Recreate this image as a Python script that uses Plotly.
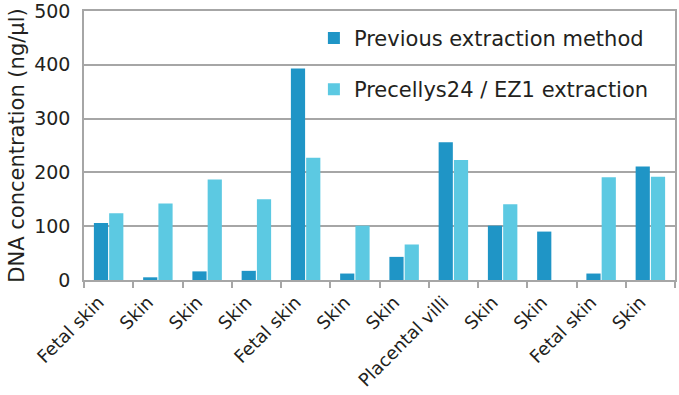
import plotly.graph_objects as go

categories = ["Fetal skin", "Skin", "Skin", "Skin", "Fetal skin", "Skin", "Skin",
              "Placental villi", "Skin", "Skin", "Fetal skin", "Skin"]
previous = [106, 5, 16, 17, 393, 12, 43, 256, 101, 90, 12, 211]
precellys = [124, 142, 187, 150, 227, 101, 66, 223, 141, 0, 191, 192]
series_names = ["Previous extraction method", "Precellys24 / EZ1 extraction"]
y_ticks = [0, 100, 200, 300, 400, 500]

x = list(range(len(categories)))
label_pos = [i - 0.2 for i in x]  # rotated labels sit slightly left of the group centre
boundaries = [i - 0.5 for i in range(len(categories) + 1)]
FONT = "DejaVu Sans"
TXT = "#231f20"
GRID = "#a6a6a6"

fig = go.Figure()
fig.add_trace(go.Bar(x=x, y=previous, name=series_names[0], marker_color="#1f95c6",
                     marker_line_width=0, legendgroup="a"))
fig.add_trace(go.Bar(x=x, y=precellys, name=series_names[1], marker_color="#5cc9e2",
                     marker_line_width=0, legendgroup="b"))

fig.update_layout(
    width=679, height=395,
    margin=dict(l=84, r=4, t=11, b=115),
    paper_bgcolor="white", plot_bgcolor="white",
    barmode="group", bargap=0.38, bargroupgap=0.07,
    font=dict(family=FONT, color=TXT),
    legend=dict(x=0.389, y=0.975, xanchor="left", yanchor="top",
                bgcolor="rgba(0,0,0,0)", font=dict(size=21, color=TXT),
                tracegroupgap=21, itemwidth=30),
    xaxis=dict(
        tickmode="array", tickvals=label_pos, ticktext=categories, tickangle=-45,
        range=[-0.5, len(categories) - 0.5], automargin=False,
        showline=True, linecolor=GRID, linewidth=1.5, mirror=True,
        ticks="", showgrid=False, ticklabelstandoff=3,
        minor=dict(tickmode="array", tickvals=boundaries, ticks="outside", ticklen=6,
                   tickcolor=GRID, tickwidth=1.5, showgrid=False),
        tickfont=dict(size=18, family=FONT, color=TXT),
    ),
    yaxis=dict(
        range=[0, 500], tickvals=y_ticks, automargin=False,
        showgrid=True, gridcolor=GRID, gridwidth=1.5,
        showline=True, linecolor=GRID, linewidth=1.5, mirror=True,
        zeroline=False, ticks="", ticklabelstandoff=8, ticklabeloverflow="allow",
        tickfont=dict(size=19, family=FONT, color=TXT),
        title=dict(text="DNA concentration (ng/µl)", font=dict(size=21, family=FONT, color=TXT),
                   standoff=4),
    ),
)

fig.write_html("out.html", config={"displayModeBar": False},
               post_script="document.body.style.margin='0';")
